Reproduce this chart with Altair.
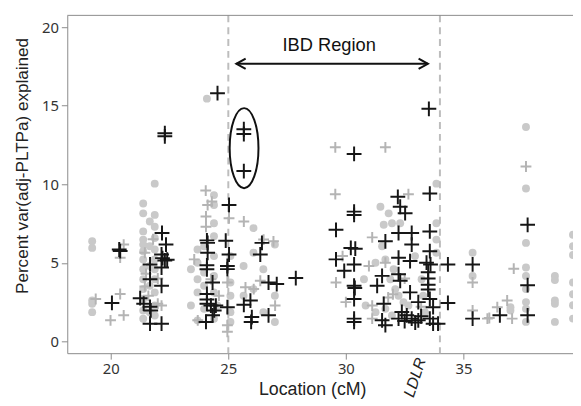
import altair as alt
import pandas as pd

# ---- data ----
black_x = [20.36, 20.4, 20.05, 21.25, 21.4, 21.67, 21.67, 21.67, 21.7, 21.67, 22.16, 22.16, 22.18, 22.35,
           22.16, 22.2, 22.3, 22.4, 22.16, 22.3, 22.3, 24.54, 25.66, 25.66, 25.66,
           24.09, 24.12, 24.12, 24.09, 24.09, 24.33, 24.09, 24.09, 24.09, 24.26, 24.47, 24.4, 24.33, 24.05,
           24.89, 25.03, 25.03, 24.96, 24.96, 24.96, 25.66, 25.94, 26.0, 25.97, 26.43, 26.36, 26.71, 27.06,
           26.71, 27.87,
           29.58, 30.35, 30.35, 30.21, 30.4, 29.58, 29.93, 30.35, 30.35, 30.38, 30.35, 30.35, 30.35, 31.68,
           31.54, 31.33, 31.61, 31.54, 31.68, 32.21, 32.31, 32.52, 32.24, 32.8, 32.8, 32.24, 32.73, 32.24,
           32.31, 32.73, 33.08, 32.38, 32.59, 32.8, 32.24, 33.08, 33.57, 33.57, 33.57, 33.43, 33.6, 33.5,
           33.5, 33.5, 33.5, 33.57, 33.71, 33.57, 33.71, 33.92, 34.34, 34.34, 35.39, 35.39, 36.55, 37.73,
           37.73, 37.73, 33.53, 30.35, 32.95, 33.2, 32.5]
black_y = [5.85, 5.75, 2.45, 2.75, 2.4, 4.9, 3.96, 2.2, 1.97, 1.13, 1.13, 3.54, 6.9, 6.16,
           5.53, 5.3, 5.15, 5.2, 4.7, 13.25, 13.05, 15.8, 13.5, 13.2, 10.84,
           6.43, 6.27, 5.64, 4.84, 4.59, 3.75, 3.02, 2.66, 2.39, 2.28, 2.28, 1.97, 1.66, 1.24,
           6.41, 8.68, 5.53, 4.8, 4.6, 2.18, 2.33, 2.6, 1.55, 1.24, 6.27, 5.53, 3.75, 3.65,
           1.66, 4.03,
           7.1, 8.26, 8.05, 5.95, 5.9, 5.22, 4.49, 4.9, 3.54, 3.4, 2.7, 1.45, 1.24, 6.37,
           4.17, 3.54, 2.39, 1.34, 1.03, 9.2, 8.57, 8.16, 6.9, 6.9, 6.16, 5.33, 5.11, 4.28,
           3.86, 3.12, 2.5, 1.87, 1.66, 1.45, 1.45, 1.34, 9.41, 7.0, 5.74, 5.01, 4.9, 4.4,
           4.0, 3.6, 3.3, 2.7, 2.18, 1.45, 1.13, 1.13, 4.9, 2.45, 4.9, 1.45, 1.66, 7.42,
           3.58, 1.66, 14.8, 11.93, 1.2, 1.6, 1.3]

grey_plus_x = [19.36, 19.99, 20.55, 20.4, 20.55, 20.4, 21.45, 22.16, 21.45, 24.12, 24.05, 24.05, 25.03,
               25.66, 23.55, 24.26, 24.6, 24.96, 24.96, 25.73, 26.08, 26.36, 26.99, 26.5, 26.92, 24.96,
               23.7, 24.04, 24.3,
               29.55, 31.68, 29.55, 32.66, 31.12, 29.86, 29.58, 30.98, 30.0, 31.12, 31.12, 31.68, 37.66,
               37.14, 35.39, 36.44, 36.1, 37.07, 36.86, 35.39, 36.02,
               21.5, 21.6, 22.0, 21.8, 22.0, 32.0, 32.5, 33.2, 31.8]
grey_plus_y = [2.7, 1.34, 1.66, 3.02, 6.16, 5.33, 5.64, 2.28, 3.5, 8.68, 7.95, 7.3, 7.84,
               7.63, 5.22, 3.96, 2.91, 0.61, 1.03, 3.44, 3.33, 3.86, 2.28, 6.48, 6.37, 3.75,
               1.34, 9.6, 8.9,
               12.35, 12.35, 9.37, 9.37, 6.62, 5.43, 3.75, 4.8, 2.5, 1.45, 2.28, 5.01, 11.13,
               4.63, 3.75, 2.18, 1.49, 1.45, 2.6, 1.97, 1.45,
               4.3, 2.9, 4.0, 6.5, 2.4, 3.0, 4.0, 2.2, 2.8]

circle_x = [19.21] * 5 + [21.38] * 13 + [21.87] * 11 + [21.66] * 5 + [23.41] * 2 + [23.69] * 5 \
    + [23.97] * 4 + [24.39] * 8 + [24.09] + [25.09] * 5 + [24.53] + [26.07] * 3 + [26.98] * 3 \
    + [26.49] * 2 + [25.65] * 2 \
    + [31.47, 31.82, 31.61, 31.96, 32.31, 31.54, 31.68, 32.03, 31.89, 32.1, 32.24, 32.45, 31.68,
       31.26, 31.96, 32.66, 33.29, 33.36, 33.85, 33.85, 33.22, 32.94, 31.26, 30.84, 30.77] \
    + [33.85, 33.85, 35.39, 35.39, 37.0, 37.0] + [37.66] * 9 + [38.89] * 5 + [39.66] * 7
circle_y = [6.37, 5.95, 2.6, 2.39, 1.86,
            8.78, 8.15, 7.0, 6.48, 6.16, 5.74, 5.22, 4.59, 3.96, 3.33, 2.7, 1.97, 1.44,
            10.04, 8.05, 7.3, 6.58, 5.85, 5.22, 4.59, 3.96, 3.12, 2.28, 1.65,
            7.63, 6.06, 4.8, 3.54, 1.86,
            4.59, 2.28,
            5.85, 5.01, 3.96, 3.12, 1.34,
            6.06, 4.38, 3.54, 2.07,
            9.31, 8.68, 7.52, 6.69, 5.43, 4.17, 3.12, 1.44,
            15.45,
            5.43, 3.75, 2.91, 1.86, 1.23,
            2.28,
            7.21, 5.64, 3.33,
            6.16, 2.91, 1.23,
            4.59, 1.86,
            4.8, 2.91,
            8.57, 8.15, 7.42, 7.52, 7.52, 6.06, 5.22, 4.59, 3.96, 3.33, 2.91, 2.49, 2.07,
            1.86, 1.65, 2.28, 2.91, 1.86, 5.64, 7.52, 3.96, 5.43, 5.01, 2.28, 3.96,
            10.04, 6.48, 5.64, 4.17, 1.97, 2.18,
            13.65, 9.73, 6.27, 4.7, 4.17, 3.33, 2.5, 2.08, 1.24,
            4.17, 3.9, 2.6, 2.4, 1.24,
            6.79, 6.06, 5.5, 3.75, 3.0, 2.3, 1.45]

ibd_bounds = [25, 34]
arrow_x = [25.34, 33.49]
arrow_y = 17.67
ibd_label = "IBD Region"
ibd_label_pos = (29.29, 18.87)
ellipse_center = (25.67, 12.3)
gene_label = "LDLR"
gene_pos = (32.94, -2.3)
x_ticks = [20, 25, 30, 35]
y_ticks = [0, 5, 10, 15, 20]

W, H = 512, 342
xs = alt.Scale(domain=[18.15, 39.66], nice=False, zero=False)
ys = alt.Scale(domain=[-0.75, 20.75], nice=False, zero=False)

PLUS = "M-1,0L1,0M0,-1L0,1"
ELLIPSE = "M0,-1A0.36,1,0,1,1,0,1A0.36,1,0,1,1,0,-1Z"

x_axis = alt.Axis(values=x_ticks, title="Location (cM)", grid=False, domainColor="#8a8a8a",
                  tickColor="#8a8a8a", tickSize=6, labelFontSize=15, labelColor="#333333",
                  labelFont="Noto Sans", titleFont="Liberation Sans", titleFontSize=18,
                  titleFontWeight="normal", titleColor="#222222", titlePadding=4, titleX=248,
                  labelPadding=3)
y_axis = alt.Axis(values=y_ticks, title="Percent var(adj-PLTPa) explained", grid=False,
                  domainColor="#8a8a8a", tickColor="#8a8a8a", tickSize=6, labelFontSize=15,
                  labelColor="#333333", labelFont="Noto Sans", titleFont="Liberation Sans",
                  titleFontSize=17.3, titleFontWeight="normal", titleColor="#222222",
                  titlePadding=10, titleY=152, labelPadding=3)

circ_df = pd.DataFrame({"x": circle_x, "y": circle_y})
gp_df = pd.DataFrame({"x": grey_plus_x, "y": grey_plus_y})
bp_df = pd.DataFrame({"x": black_x, "y": black_y})

circles = alt.Chart(circ_df).mark_point(shape="circle", filled=True, size=64, color="#c9c9c9",
                                        opacity=1, clip=True).encode(
    x=alt.X("x:Q", scale=xs, axis=x_axis), y=alt.Y("y:Q", scale=ys, axis=y_axis))

vlines = alt.Chart(pd.DataFrame({"x": ibd_bounds})).mark_rule(
    color="#bdbdbd", strokeWidth=2, strokeDash=[7, 5]).encode(x=alt.X("x:Q", scale=xs))

gplus = alt.Chart(gp_df).mark_point(shape=PLUS, filled=False, size=121, color="#b4b4b4",
                                    strokeWidth=2, opacity=1, clip=True).encode(
    x=alt.X("x:Q", scale=xs), y=alt.Y("y:Q", scale=ys))

bplus = alt.Chart(bp_df).mark_point(shape=PLUS, filled=False, size=225, color="#161616",
                                    strokeWidth=2, opacity=1, clip=True).encode(
    x=alt.X("x:Q", scale=xs), y=alt.Y("y:Q", scale=ys))

arrow_df = pd.DataFrame({"x": [arrow_x[0]], "x2": [arrow_x[1]], "y": [arrow_y]})
arrow_line = alt.Chart(arrow_df).mark_rule(color="#111111", strokeWidth=2).encode(
    x=alt.X("x:Q", scale=xs), x2="x2:Q", y=alt.Y("y:Q", scale=ys))

head_df = pd.DataFrame({"x": arrow_x, "y": [arrow_y, arrow_y],
                        "shape": ["M1.8,-1L0,0L1.8,1", "M-1.8,-1L0,0L-1.8,1"]})
heads = alt.Chart(head_df).mark_point(filled=False, size=110, color="#111111", strokeWidth=2,
                                      opacity=1).encode(
    x=alt.X("x:Q", scale=xs), y=alt.Y("y:Q", scale=ys),
    shape=alt.Shape("shape:N", scale=None, legend=None))

ibd_text = alt.Chart(pd.DataFrame({"x": [ibd_label_pos[0]], "y": [ibd_label_pos[1]],
                                   "t": [ibd_label]})).mark_text(
    font="Liberation Sans", fontSize=18.5, color="#111111").encode(
    x=alt.X("x:Q", scale=xs), y=alt.Y("y:Q", scale=ys), text="t:N")

ell = alt.Chart(pd.DataFrame({"x": [ellipse_center[0]], "y": [ellipse_center[1]]})).mark_point(
    shape=ELLIPSE, filled=False, size=6561, color="#111111", strokeWidth=2, opacity=1).encode(
    x=alt.X("x:Q", scale=xs), y=alt.Y("y:Q", scale=ys))

gene = alt.Chart(pd.DataFrame({"x": [gene_pos[0]], "y": [gene_pos[1]], "t": [gene_label]})).mark_text(
    font="Liberation Sans", fontSize=16, fontStyle="italic", angle=288, color="#222222").encode(
    x=alt.X("x:Q", scale=xs), y=alt.Y("y:Q", scale=ys), text="t:N")

top_frame = alt.Chart(pd.DataFrame({"a": [0]})).mark_rule(color="#8a8a8a", strokeWidth=1).encode(
    x=alt.value(0), x2=alt.value(W + 2), y=alt.value(0))

chart = alt.layer(circles, vlines, gplus, bplus, arrow_line, heads, ibd_text, ell, gene,
                  top_frame).properties(
    width=W, height=H,
    padding={"left": 60, "top": 5, "right": 0, "bottom": 50},
    autosize=alt.AutoSizeParams(type="none"),
).configure_view(stroke=None)

chart.save("out.html", embed_options={"renderer": "svg", "actions": False})
